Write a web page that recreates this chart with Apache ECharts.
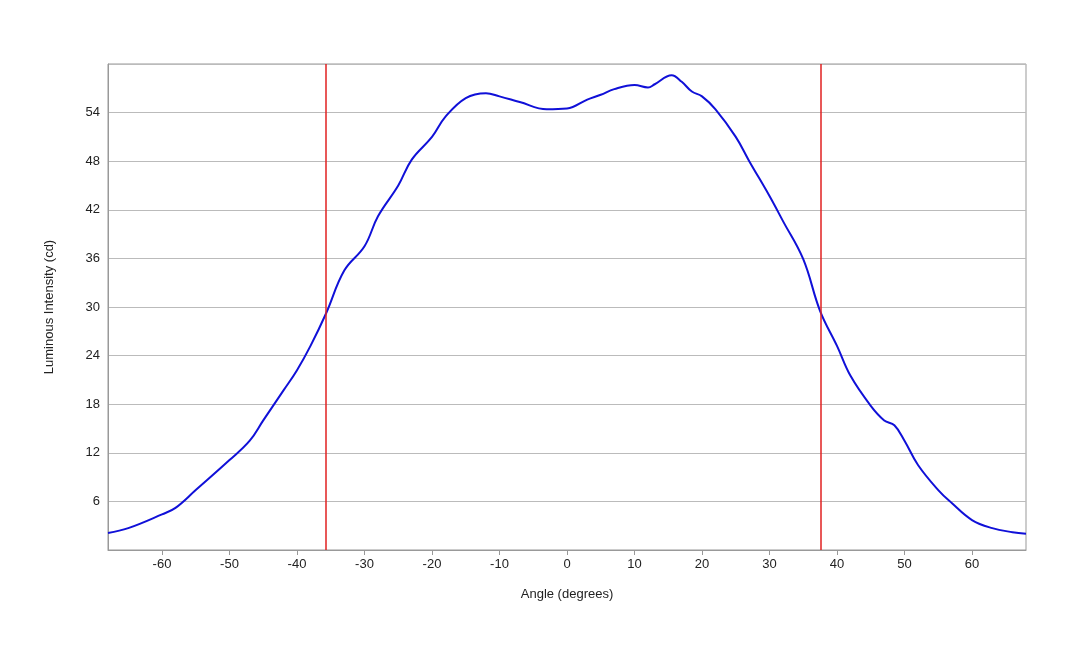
<!DOCTYPE html>
<html><head><meta charset="utf-8">
<script src="https://cdn.jsdelivr.net/npm/echarts@6/dist/echarts.min.js"></script>
<style>html,body{margin:0;padding:0;background:#fff}#c{width:1080px;height:648px}</style>
</head><body><div id="c"></div>
<script>
const angles = [-68,-65,-60,-58,-55,-50,-47,-45,-42,-40,-38,-35.7,-33,-30,-28,-25,-23,-20,-18,-15,-12,-10,-7,-3,0,3,5,7,10,12,13,15.5,17,18.5,20,22,25,27,30,32,35,37.5,40,42,45,47,48.5,50,52,55,57,60,63,66,68];
const intensity = [2.1,2.7,4.4,5.2,7.4,11.1,13.5,16,19.7,22.2,25.2,29.2,34.5,37.5,41.2,45,48.2,51,53.5,55.8,56.4,56,55.3,54.4,54.5,55.6,56.2,56.9,57.4,57.1,57.5,58.6,57.8,56.6,56,54.4,51,48,43.7,40.6,35.9,29.5,25.2,21.5,17.8,16,15.4,13.5,10.5,7.4,5.8,3.7,2.7,2.2,2.0];
const xTicks = [-60,-50,-40,-30,-20,-10,0,10,20,30,40,50,60];
const fwhmLines = [-35.7, 37.6];
const fwhmLabel = 'FWHM = 73°';
const chart = echarts.init(document.getElementById('c'));
const font = 'Liberation Sans, Arial, sans-serif';
chart.setOption({
  animation:false,
  grid:{left:108,right:54,top:64,bottom:98,show:true,borderColor:'#999',borderWidth:1},
  xAxis:{type:'value',min:-68,max:68,name:'Angle (degrees)',nameLocation:'middle',nameGap:38,
    nameTextStyle:{color:'#222',fontSize:13,fontFamily:font},
    axisLabel:{color:'#222',fontSize:13,fontFamily:font,customValues:xTicks},
    axisTick:{show:true,customValues:xTicks,lineStyle:{color:'#999'}},
    axisLine:{onZero:false,lineStyle:{color:'#999'}},splitLine:{show:false}},
  yAxis:{type:'value',min:0,max:60,interval:6,name:'Luminous Intensity (cd)',nameLocation:'middle',nameGap:52,
    nameTextStyle:{color:'#222',fontSize:13,fontFamily:font},
    axisLabel:{color:'#222',fontSize:13,fontFamily:font,showMinLabel:false,showMaxLabel:false},
    axisTick:{show:false},axisLine:{show:true,onZero:false,lineStyle:{color:'#999'}},
    splitLine:{show:true,lineStyle:{color:'#bbb'}}},
  series:[{type:'line',data:angles.map((a,i)=>[a,intensity[i]]),smooth:0.4,symbol:'none',
    lineStyle:{color:'#1010d8',width:2},
    markLine:{silent:true,symbol:'none',label:{show:false},lineStyle:{color:'#e02020',width:1.5,type:'solid'},
      data:fwhmLines.map(v=>({xAxis:v}))},
    markPoint:{symbol:'circle',symbolSize:1,itemStyle:{opacity:0},
      data:[{coord:[39.8,45.2],label:{show:true,formatter:fwhmLabel,position:'right',distance:0,color:'#222',fontSize:13,fontFamily:font}}]}
  }]
});
</script></body></html>
